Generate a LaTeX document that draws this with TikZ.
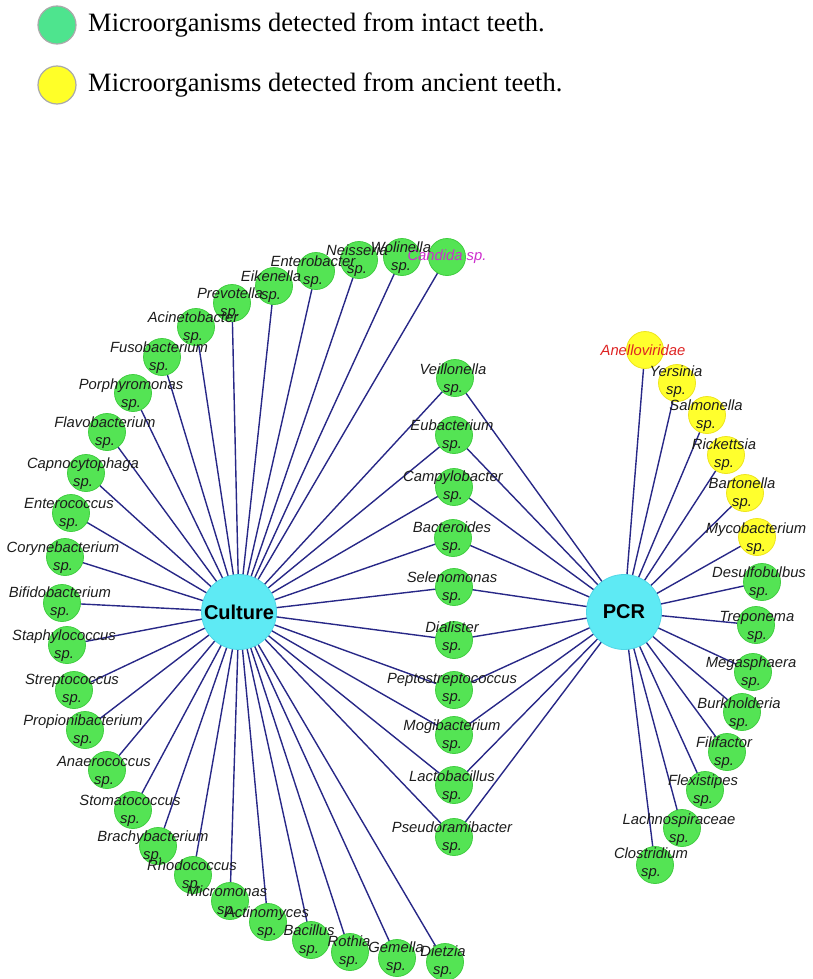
\documentclass[tikz,border=0pt]{standalone}
\usepackage{fontspec}
\setmainfont{Liberation Serif}
\setsansfont{Liberation Sans}
\pgfdeclarelayer{bg}\pgfdeclarelayer{fg}\pgfsetlayers{bg,main,fg}
\definecolor{gfill}{RGB}{84,228,84}
\definecolor{gdraw}{RGB}{64,205,64}
\definecolor{yfill}{RGB}{255,255,45}
\definecolor{ydraw}{RGB}{238,228,30}
\definecolor{cfill}{RGB}{94,234,244}
\definecolor{cdraw}{RGB}{80,215,230}
\definecolor{edgec}{RGB}{40,40,135}
\definecolor{legg}{RGB}{78,228,142}
\definecolor{legy}{RGB}{255,255,40}
\definecolor{legd}{RGB}{170,170,170}
\definecolor{labc}{RGB}{28,28,28}
\definecolor{magc}{RGB}{205,45,205}
\definecolor{redc}{RGB}{222,35,35}
\tikzset{
  gn/.style={circle, fill=gfill, draw=gdraw, line width=0.8pt, minimum size=37pt, inner sep=0pt},
  yn/.style={gn, fill=yfill, draw=ydraw},
  hub/.style={circle, fill=cfill, draw=cdraw, line width=0.8pt, minimum size=75pt, inner sep=0pt,
     font=\sffamily\bfseries\fontsize{20}{24}\selectfont},
  lab/.style={font=\sffamily\itshape\fontsize{14.8}{18}\selectfont, text=labc, align=center, inner sep=0pt},
  edge/.style={draw=edgec, line width=1.4pt},
  legc/.style={circle, draw=legd, line width=1.2pt, minimum size=38pt, inner sep=0pt},
  legt/.style={anchor=west, inner sep=0pt, font=\fontsize{26.5}{30}\selectfont}
}
\newcommand\GN[7]{\node[#1] (#2) at (#3,#4) {};
  \begin{pgfonlayer}{fg}\node[lab] at (#5,#6) {#7};\end{pgfonlayer}}
\begin{document}
\begin{tikzpicture}[x=1pt,y=-1pt]
\useasboundingbox (0,0) rectangle (813,979);
% legend
\node[legc, fill=legg] (lg1) at (57,25) {};
\node[legt] (lt1) at (88,25) {Microorganisms detected from intact teeth.};
\node[legc, fill=legy] (lg2) at (57,85) {};
\node[legt] (lt2) at (88,85) {Microorganisms detected from ancient teeth.};
% hubs
\node[hub] (Cul) at (239,612) {Culture};
\node[hub] (PCR) at (624,612) {PCR};
% top arc
\GN{gn}{Can}{447}{257}{447}{257}{\textcolor{magc}{Candida sp.}}
\GN{gn}{Wol}{402}{257}{401}{258}{Wolinella\\sp.}
\GN{gn}{Nei}{359}{260}{357}{261}{Neisseria\\sp.}
\GN{gn}{Ent}{316}{271}{313}{272}{Enterobacter\\sp.}
\GN{gn}{Eik}{274}{286}{271}{287}{Eikenella\\sp.}
\GN{gn}{Pre}{232}{303}{230}{304}{Prevotella\\sp.}
\GN{gn}{Aci}{196}{327}{193}{328}{Acinetobacter\\sp.}
\GN{gn}{Fus}{162}{357}{159}{358}{Fusobacterium\\sp.}
\GN{gn}{Por}{133}{393}{131}{395}{Porphyromonas\\sp.}
\GN{gn}{Fla}{107}{432}{105}{433}{Flavobacterium\\sp.}
\GN{gn}{Cap}{86}{473}{83}{474}{Capnocytophaga\\sp.}
\GN{gn}{Enc}{71}{513}{69}{514}{Enterococcus\\sp.}
\GN{gn}{Cor}{65}{557}{63}{558}{Corynebacterium\\sp.}
\GN{gn}{Bif}{62}{603}{60}{603}{Bifidobacterium\\sp.}
\GN{gn}{Sta}{67}{645}{64}{646}{Staphylococcus\\sp.}
\GN{gn}{Str}{74}{690}{72}{690}{Streptococcus\\sp.}
\GN{gn}{Pro}{85}{730}{83}{731}{Propionibacterium\\sp.}
\GN{gn}{Ana}{107}{770}{104}{772}{Anaerococcus\\sp.}
\GN{gn}{Sto}{133}{810}{130}{811}{Stomatococcus\\sp.}
\GN{gn}{Bra}{158}{846}{153}{847}{Brachybacterium\\sp.}
\GN{gn}{Rho}{193}{875}{192}{876}{Rhodococcus\\sp.}
\GN{gn}{Mic}{230}{901}{227}{902}{Micromonas\\sp.}
\GN{gn}{Act}{268}{922}{267}{923}{Actinomyces\\sp.}
\GN{gn}{Bac}{311}{940}{309}{941}{Bacillus\\sp.}
\GN{gn}{Rot}{350}{952}{349}{952}{Rothia\\sp.}
\GN{gn}{Gem}{397}{958}{396}{958}{Gemella\\sp.}
\GN{gn}{Die}{445}{962}{443}{962}{Dietzia\\sp.}
% middle column
\GN{gn}{Vei}{455}{378}{453}{380}{Veillonella\\sp.}
\GN{gn}{Eub}{454}{435}{452}{436}{Eubacterium\\sp.}
\GN{gn}{Cam}{454}{487}{453}{487}{Campylobacter\\sp.}
\GN{gn}{Bcd}{453}{538}{452}{538}{Bacteroides\\sp.}
\GN{gn}{Sel}{454}{587}{452}{588}{Selenomonas\\sp.}
\GN{gn}{Dia}{454}{640}{452}{638}{Dialister\\sp.}
\GN{gn}{Pep}{454}{690}{452}{689}{Peptostreptococcus\\sp.}
\GN{gn}{Mog}{454}{735}{452}{736}{Mogibacterium\\sp.}
\GN{gn}{Lac}{454}{785}{452}{787}{Lactobacillus\\sp.}
\GN{gn}{Pse}{454}{837}{452}{838}{Pseudoramibacter\\sp.}
% right arc
\GN{yn}{Ane}{645}{350}{643}{350}{\textcolor{redc}{Anelloviridae}}
\GN{yn}{Yer}{677}{383}{676}{382}{Yersinia\\sp.}
\GN{yn}{Sal}{707}{415}{706}{416}{Salmonella\\sp.}
\GN{yn}{Ric}{726}{455}{724}{455}{Rickettsia\\sp.}
\GN{yn}{Bar}{745}{493}{742}{494}{Bartonella\\sp.}
\GN{yn}{Myc}{757}{537}{756}{539}{Mycobacterium\\sp.}
\GN{gn}{Des}{762}{582}{759}{583}{Desulfobulbus\\sp.}
\GN{gn}{Tre}{756}{625}{757}{627}{Treponema\\sp.}
\GN{gn}{Meg}{753}{672}{751}{673}{Megasphaera\\sp.}
\GN{gn}{Bur}{742}{712}{739}{714}{Burkholderia\\sp.}
\GN{gn}{Fil}{727}{752}{724}{753}{Filifactor\\sp.}
\GN{gn}{Fle}{705}{790}{703}{791}{Flexistipes\\sp.}
\GN{gn}{Lch}{682}{828}{679}{830}{Lachnospiraceae\\sp.}
\GN{gn}{Clo}{655}{865}{651}{864}{Clostridium\\sp.}
% edges
\begin{pgfonlayer}{bg}
\foreach \n in {Can,Wol,Nei,Ent,Eik,Pre,Aci,Fus,Por,Fla,Cap,Enc,Cor,Bif,Sta,Str,Pro,Ana,Sto,Bra,Rho,Mic,Act,Bac,Rot,Gem,Die,Vei,Eub,Cam,Bcd,Sel,Dia,Pep,Mog,Lac,Pse}
  \draw[edge] (Cul.center) -- (\n.center);
\foreach \n in {Vei,Eub,Cam,Bcd,Sel,Dia,Pep,Mog,Lac,Pse,Ane,Yer,Sal,Ric,Bar,Myc,Des,Tre,Meg,Bur,Fil,Fle,Lch,Clo}
  \draw[edge] (PCR.center) -- (\n.center);
\end{pgfonlayer}
\end{tikzpicture}
\end{document}
